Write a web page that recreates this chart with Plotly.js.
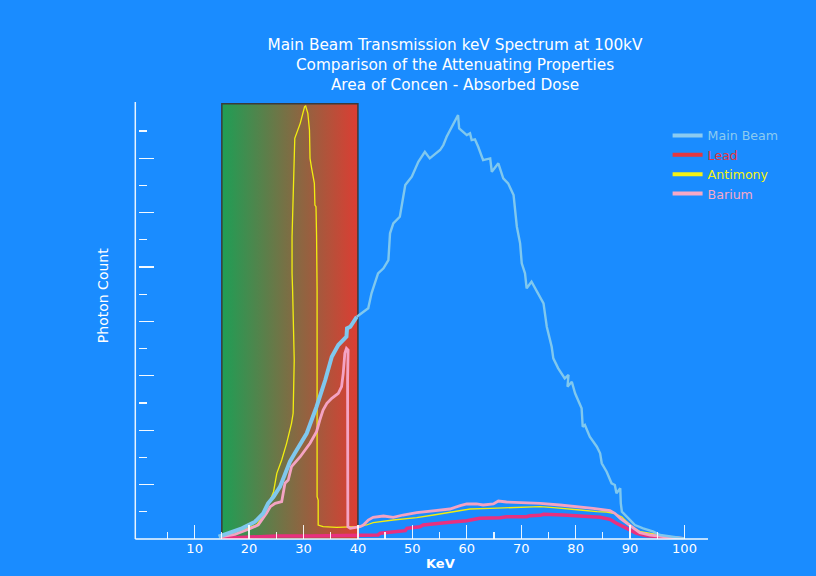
<!DOCTYPE html>
<html>
<head>
<meta charset="utf-8">
<script src="https://cdn.plot.ly/plotly-3.0.1.min.js"></script>
<style>html,body{margin:0;padding:0;background:#1a8cff;}#chart{width:816px;height:576px;}</style>
</head>
<body>
<div id="chart"></div>
<script>
// ---- Data ----
var mbX = [14.4,16.2,18.7,21.1,22.6,23.5,24.5,25.7,26.9,27.5,28.4,29.4,29.9,30.6,32.4,34.0,35.2,36.4,37.9,38.0,38.6,39.8,41.9,42.5,43.7,44.7,45.6,45.9,46.5,47.7,48.3,48.7,49.9,51.1,52.3,53.2,55.1,55.7,56.3,57.5,58.4,58.6,60.0,60.6,60.9,61.5,62.1,63.0,64.3,64.6,65.8,66.7,67.6,68.6,69.2,69.8,70.1,70.7,71.0,71.9,72.9,74.1,74.7,75.6,75.9,76.8,78.0,78.7,78.5,79.3,79.9,81.1,81.3,81.7,82.6,83.9,84.5,84.8,85.7,86.6,87.2,87.5,88.2,88.3,88.5,89.7,90.9,92.4,94.3,95.5,99.2,100];
var mbY = [85,210,393,636,945,1312,1555,1923,2536,2842,3150,3455,3639,3886,4863,5845,6701,7131,7437,7745,7804,8172,8481,9032,9767,9951,10256,11238,11605,11848,12462,13013,13318,13869,14237,13994,14300,14483,14789,15219,15586,15097,14851,14913,14667,14693,14421,13932,13994,13502,13811,13259,13075,12645,11480,10870,10135,9767,9216,9458,9091,8664,7804,7069,6643,6275,5907,6029,5599,5782,5356,4805,4128,4191,3761,3393,3150,2783,2474,2048,1985,1680,1864,1312,1004,761,515,393,268,147,62,20];

var pbX = [14.7,20.2,25.1,31.2,37.3,42.2,43.7,44.1,46.2,48.7,49.0,51.4,52.0,56.3,56.9,60.0,62.4,66.1,67.3,71.0,71.6,73.5,74.1,77.7,82.0,84.5,86.3,87.5,89.4,91.2,93.1,96.1,99.8];
var pbY = [26,85,110,110,121,147,147,210,268,305,393,452,515,577,614,673,761,783,820,820,857,871,908,882,845,798,724,577,393,210,121,62,11];

var sbX = [15.0,18.9,21.4,22.9,24.5,25.1,26.0,26.9,27.8,28.1,28.3,28.0,27.9,27.9,28.1,28.3,28.4,29.4,30.2,30.4,30.8,31.1,31.2,31.5,31.8,32.0,32.1,32.3,32.4,32.5,32.5,32.7,32.7,33.6,36.1,37.9,39.8,41.6,42.8,46.5,50.8,53.9,56.9,59.4,60.6,64.3,69.2,73.5,75.9,78.4,80.8,83.9,85.7,87.2,88.5,89.6,90.6,91.9,93.7,95.5,97.3,99.9];
var sbY = [85,331,515,945,1739,2415,2904,3518,4253,4621,6580,9153,9767,11112,12399,13557,14730,15281,15892,15917,15649,15035,13994,13627,13318,13075,12278,12215,11175,9153,1555,1434,515,452,430,430,452,515,599,698,783,882,981,1066,1103,1129,1165,1187,1151,1121,1066,1004,993,937,809,600,420,268,210,147,85,37];

var baX = [15.0,17.4,19.9,21.7,23.2,23.9,24.8,26.0,26.6,27.2,27.8,29.4,31.2,32.4,33.0,33.6,34.3,35.2,36.4,37.0,37.3,37.6,37.9,38.2,38.1,38.15,38.6,40.4,41.0,41.9,42.8,44.7,46.5,48.3,50.8,53.9,56.9,58.8,60.0,61.8,63.0,64.9,65.8,67.3,71.0,73.5,77.1,80.8,83.2,86.3,87.2,88.2,89.4,90.6,91.8,93.7,96.1,99.8];
var baY = [85,173,357,515,945,1187,1312,1371,2050,2169,2658,3025,3518,3944,4374,4742,4988,5172,5356,5599,6091,6826,7010,6948,5845,452,393,452,515,698,798,845,798,882,967,1040,1103,1224,1287,1287,1250,1287,1397,1360,1334,1312,1250,1187,1129,1040,945,761,577,393,232,147,85,26];

// highlighted "area of concern" band
var bandX = [15, 40];
var bandTop = 16000;

var seriesNames = ['Main Beam', 'Lead', 'Antimony', 'Barium'];
var xTickVals = [10,20,30,40,50,60,70,80,90,100];
var xMinorVals = [5,15,25,35,45,55,65,75,85,95];
var yTickVals = [2000,4000,6000,8000,10000,12000,14000];
var yMinorVals = [1000,3000,5000,7000,9000,11000,13000,15000];

// ---- Build ----
var BG = '#1a8cff';
var FONT = 'DejaVu Sans, sans-serif';
var C_MB = '#80c8ee', C_PB = '#e8307f', C_SB = '#f2ee10', C_BA = '#f4a3c3';
var LEG = {mb:'#8ccbf0', pb:'#e5373f', sb:'#f5f212', ba:'#f6a8c6'};

// split main beam: thick inside band, thinner outside
var mbInX = [], mbInY = [], mbOutX = [], mbOutY = [];
for (var i = 0; i < mbX.length; i++) {
  if (mbX[i] <= bandX[1]) { mbInX.push(mbX[i]); mbInY.push(mbY[i]); }
  if (mbX[i] >= bandX[1] - 0.3) { mbOutX.push(mbX[i]); mbOutY.push(mbY[i]); }
}

var traces = [
  {x:[bandX[0],bandX[1],bandX[1],bandX[0],bandX[0]], y:[0,0,bandTop,bandTop,0], mode:'lines', fill:'toself',
   fillgradient:{type:'horizontal', colorscale:[[0,'#1f9e55'],[1,'#dc3d33']]},
   line:{color:'#3b3b3b', width:1.5}, showlegend:false, hoverinfo:'skip'},
  {x:pbX, y:pbY, mode:'lines', line:{color:C_PB, width:3.5}, showlegend:false, name:seriesNames[1]},
  {x:sbX, y:sbY, mode:'lines', line:{color:C_SB, width:1.3}, showlegend:false, name:seriesNames[2]},
  {x:baX, y:baY, mode:'lines', line:{color:C_BA, width:2.8}, showlegend:false, name:seriesNames[3]},
  {x:mbOutX, y:mbOutY, mode:'lines', line:{color:C_MB, width:2.4}, showlegend:false, name:seriesNames[0]},
  {x:mbInX, y:mbInY, mode:'lines', line:{color:C_MB, width:4}, showlegend:false, name:seriesNames[0]},
  // legend entries
  {x:[null], y:[null], mode:'lines', line:{color:LEG.mb, width:4}, name:'<span style="color:'+LEG.mb+'">'+seriesNames[0]+'</span>'},
  {x:[null], y:[null], mode:'lines', line:{color:LEG.pb, width:4}, name:'<span style="color:'+LEG.pb+'">'+seriesNames[1]+'</span>'},
  {x:[null], y:[null], mode:'lines', line:{color:LEG.sb, width:4}, name:'<span style="color:'+LEG.sb+'">'+seriesNames[2]+'</span>'},
  {x:[null], y:[null], mode:'lines', line:{color:LEG.ba, width:4}, name:'<span style="color:'+LEG.ba+'">'+seriesNames[3]+'</span>'}
];

var layout = {
  width:816, height:576,
  paper_bgcolor:BG, plot_bgcolor:BG,
  margin:{l:139, r:108, t:102, b:37, pad:0},
  font:{family:FONT, color:'#ffffff', size:13},
  title:{text:'Main Beam Transmission keV Spectrum at 100kV<br>Comparison of the Attenuating Properties<br>Area of Concen - Absorbed Dose',
         font:{family:FONT, size:15.3, color:'#ffffff'}, x:0.5576, xanchor:'center', xref:'container', y:0.913, yanchor:'top', yref:'container'},
  xaxis:{range:[-0.22,104.32], showgrid:false, zeroline:false, showline:false,
         tickmode:'array', tickvals:xTickVals, ticktext:xTickVals.map(String),
         ticks:'inside', ticklen:14, tickwidth:1.3, tickcolor:'rgba(255,255,255,0.9)',
         minor:{tickmode:'array', tickvals:xMinorVals, ticks:'inside', ticklen:7, tickwidth:1.3, tickcolor:'rgba(255,255,255,0.9)', showgrid:false},
         tickfont:{family:FONT, size:13, color:'#ffffff'}, fixedrange:true},
  yaxis:{range:[0,16066], showgrid:false, zeroline:false, showline:false, showticklabels:false,
         tickmode:'array', tickvals:yTickVals,
         ticks:'inside', ticklen:15, tickwidth:1.3, tickcolor:'rgba(255,255,255,0.95)',
         minor:{tickmode:'array', tickvals:yMinorVals, ticks:'inside', ticklen:8, tickwidth:1.3, tickcolor:'rgba(255,255,255,0.95)', showgrid:false},
         fixedrange:true},
  showlegend:true,
  legend:{x:0.929, xanchor:'left', y:0.957, yanchor:'top', bgcolor:'rgba(0,0,0,0)', borderwidth:0,
          font:{family:FONT, size:12.6, color:'#ffffff'}, tracegroupgap:0, itemwidth:30},
  shapes:[
    {type:'line', xref:'paper', yref:'paper', x0:-0.0065, x1:-0.0065, y0:0, y1:1, line:{color:'rgba(255,255,255,0.9)', width:1.5}},
    {type:'line', xref:'paper', yref:'paper', x0:-0.0065, x1:1, y0:0, y1:0, line:{color:'rgba(255,255,255,0.95)', width:1.5}}
  ],
  annotations:[
    {text:'Photon Count', xref:'paper', yref:'paper', x:-0.0633, y:0.558, textangle:-90, showarrow:false,
     font:{family:FONT, size:14, color:'#ffffff'}, xanchor:'center', yanchor:'middle'},
    {text:'<b>KeV</b>', xref:'paper', yref:'paper', x:0.529, y:-0.055, showarrow:false,
     font:{family:FONT, size:13, color:'#ffffff'}, xanchor:'center', yanchor:'middle'}
  ]
};

Plotly.newPlot('chart', traces, layout, {displayModeBar:false, staticPlot:true});
</script>
</body>
</html>
